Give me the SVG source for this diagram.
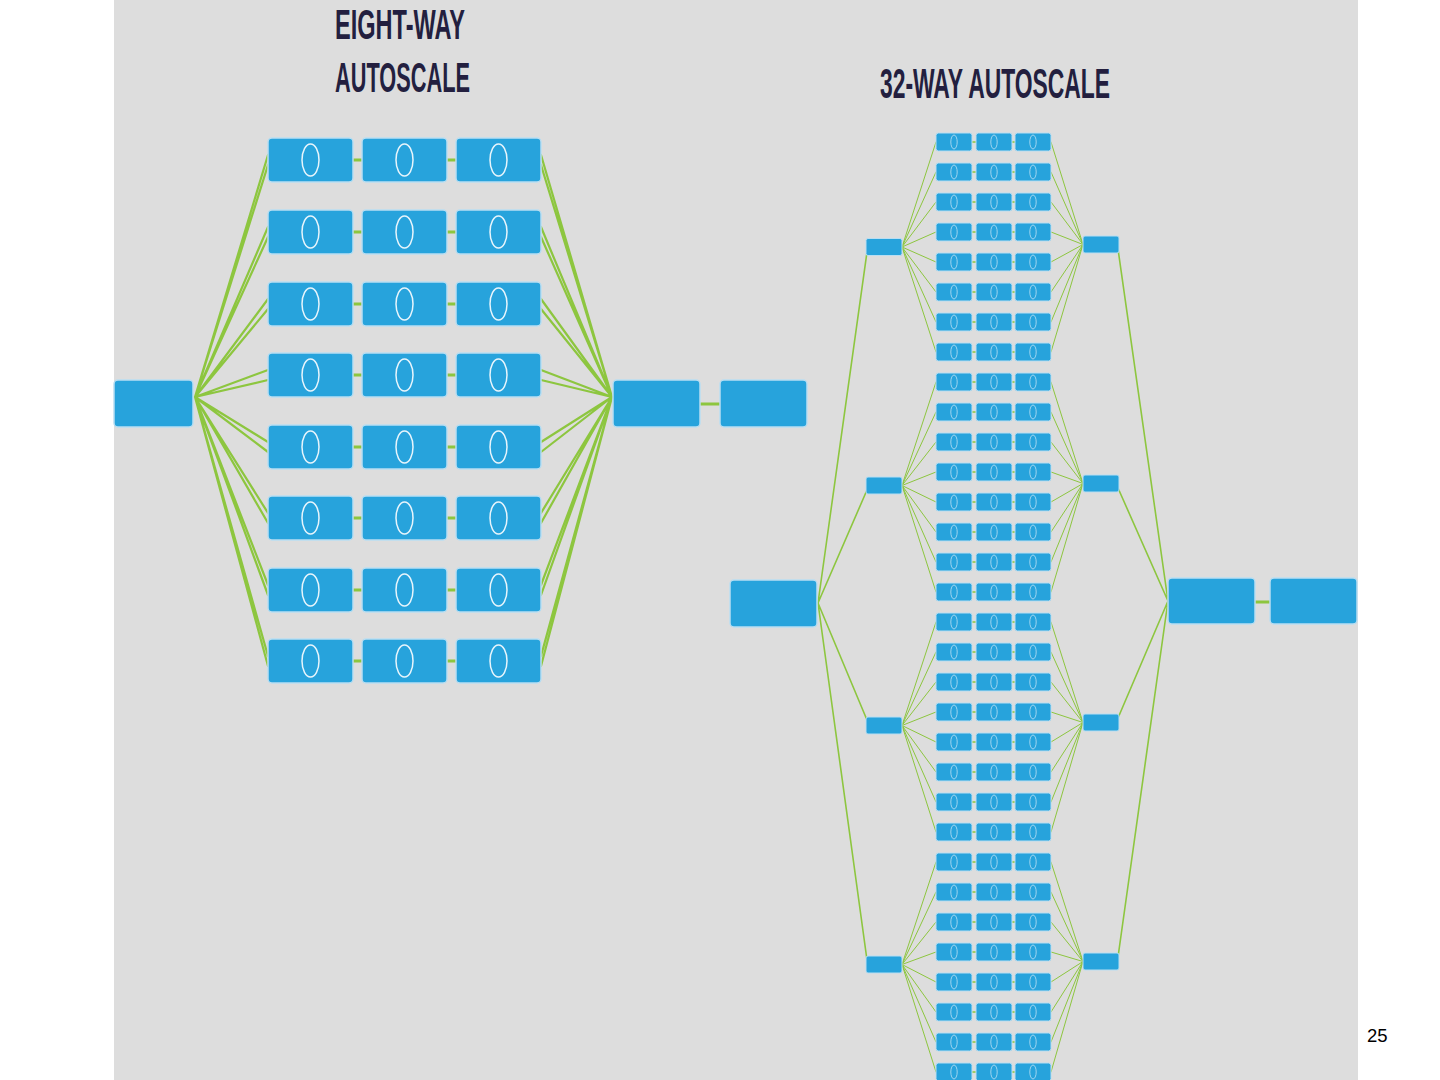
<svg xmlns="http://www.w3.org/2000/svg" xmlns:xlink="http://www.w3.org/1999/xlink" width="1440" height="1080" viewBox="0 0 1440 1080">
<style>
.title{font-family:"Liberation Sans",Arial,sans-serif;font-weight:bold;font-size:43px;fill:#231f3f}
.pg{font-family:"Liberation Sans",Arial,sans-serif;font-size:18.5px;fill:#000}
.big{fill:#27a3dc;stroke:#b9def2;stroke-width:1.5}
.sm{fill:#27a3dc;stroke:#b9def2;stroke-width:1}
.ov{fill:none;stroke:#e8f5fc;stroke-width:1.5}
.ovs{fill:none;stroke:#9fd5f0;stroke-width:1}
.gl{stroke:#8dc63f;fill:none;stroke-linecap:round}
</style>
<defs>
<g id="bn"><rect class="big" x="0" y="0" width="85" height="44" rx="4"/><ellipse class="ov" cx="42.5" cy="22" rx="8.5" ry="16"/></g>
<g id="hub"><rect class="big" x="0" y="0" width="87" height="47" rx="4"/></g>
<g id="sn"><rect class="sm" x="0" y="0" width="36" height="18" rx="2.5"/><ellipse class="ovs" cx="18" cy="9" rx="3.2" ry="7"/></g>
<g id="sg"><rect class="sm" x="0" y="0" width="36" height="17" rx="2"/></g>
</defs>
<rect x="0" y="0" width="1440" height="1080" fill="#ffffff"/>
<rect x="114" y="0" width="1244" height="1080" fill="#dddddd"/>
<text class="title" x="335" y="39" textLength="130" lengthAdjust="spacingAndGlyphs">EIGHT-WAY</text>
<text class="title" x="335" y="92" textLength="135" lengthAdjust="spacingAndGlyphs">AUTOSCALE</text>
<text class="title" x="880" y="98" textLength="230" lengthAdjust="spacingAndGlyphs">32-WAY AUTOSCALE</text>
<text class="pg" x="1367" y="1042">25</text>
<g id="connectors">
<path class="gl" stroke-width="2.2" d="M195 397 L268 155 M195 397 L268 165 M195 397 L268 227 M195 397 L268 237 M195 397 L268 299 M195 397 L268 309 M195 397 L268 370 M195 397 L268 380 M195 397 L268 442 M195 397 L268 452 M195 397 L268 513 M195 397 L268 523 M195 397 L268 585 M195 397 L268 595 M195 397 L268 656 M195 397 L268 666"/>
<path class="gl" stroke-width="2.2" d="M612 397 L541 155 M612 397 L541 165 M612 397 L541 227 M612 397 L541 237 M612 397 L541 299 M612 397 L541 309 M612 397 L541 370 M612 397 L541 380 M612 397 L541 442 M612 397 L541 452 M612 397 L541 513 M612 397 L541 523 M612 397 L541 585 M612 397 L541 595 M612 397 L541 656 M612 397 L541 666"/>
<path class="gl" stroke-width="3" d="M353 160 H362 M447 160 H456 M353 232 H362 M447 232 H456 M353 304 H362 M447 304 H456 M353 375 H362 M447 375 H456 M353 447 H362 M447 447 H456 M353 518 H362 M447 518 H456 M353 590 H362 M447 590 H456 M353 661 H362 M447 661 H456 M700 404 H720"/>
<path class="gl" stroke-width="1.6" d="M818 603 L867 252 M818 603 L867 490 M818 603 L867 720 M818 603 L867 960 M1168 601 L1118 249 M1168 601 L1118 488 M1168 601 L1118 718 M1168 601 L1118 957"/>
<path class="gl" stroke-width="3" d="M1255 602 H1270"/>
<path class="gl" stroke-width="1" d="M902 247 L936 142 M902 247 L936 172 M902 247 L936 202 M902 247 L936 232 M902 247 L936 262 M902 247 L936 292 M902 247 L936 322 M902 247 L936 352 M902 485.5 L936 382 M902 485.5 L936 412 M902 485.5 L936 442 M902 485.5 L936 472 M902 485.5 L936 502 M902 485.5 L936 532 M902 485.5 L936 562 M902 485.5 L936 592 M902 725.5 L936 622 M902 725.5 L936 652 M902 725.5 L936 682 M902 725.5 L936 712 M902 725.5 L936 742 M902 725.5 L936 772 M902 725.5 L936 802 M902 725.5 L936 832 M902 964.5 L936 862 M902 964.5 L936 892 M902 964.5 L936 922 M902 964.5 L936 952 M902 964.5 L936 982 M902 964.5 L936 1012 M902 964.5 L936 1042 M902 964.5 L936 1072"/>
<path class="gl" stroke-width="1" d="M1083 244.5 L1051 142 M1083 244.5 L1051 172 M1083 244.5 L1051 202 M1083 244.5 L1051 232 M1083 244.5 L1051 262 M1083 244.5 L1051 292 M1083 244.5 L1051 322 M1083 244.5 L1051 352 M1083 483.5 L1051 382 M1083 483.5 L1051 412 M1083 483.5 L1051 442 M1083 483.5 L1051 472 M1083 483.5 L1051 502 M1083 483.5 L1051 532 M1083 483.5 L1051 562 M1083 483.5 L1051 592 M1083 722.5 L1051 622 M1083 722.5 L1051 652 M1083 722.5 L1051 682 M1083 722.5 L1051 712 M1083 722.5 L1051 742 M1083 722.5 L1051 772 M1083 722.5 L1051 802 M1083 722.5 L1051 832 M1083 961.5 L1051 862 M1083 961.5 L1051 892 M1083 961.5 L1051 922 M1083 961.5 L1051 952 M1083 961.5 L1051 982 M1083 961.5 L1051 1012 M1083 961.5 L1051 1042 M1083 961.5 L1051 1072"/>
<path class="gl" stroke-width="1.5" d="M972 142 H976 M1012 142 H1015 M972 172 H976 M1012 172 H1015 M972 202 H976 M1012 202 H1015 M972 232 H976 M1012 232 H1015 M972 262 H976 M1012 262 H1015 M972 292 H976 M1012 292 H1015 M972 322 H976 M1012 322 H1015 M972 352 H976 M1012 352 H1015 M972 382 H976 M1012 382 H1015 M972 412 H976 M1012 412 H1015 M972 442 H976 M1012 442 H1015 M972 472 H976 M1012 472 H1015 M972 502 H976 M1012 502 H1015 M972 532 H976 M1012 532 H1015 M972 562 H976 M1012 562 H1015 M972 592 H976 M1012 592 H1015 M972 622 H976 M1012 622 H1015 M972 652 H976 M1012 652 H1015 M972 682 H976 M1012 682 H1015 M972 712 H976 M1012 712 H1015 M972 742 H976 M1012 742 H1015 M972 772 H976 M1012 772 H1015 M972 802 H976 M1012 802 H1015 M972 832 H976 M1012 832 H1015 M972 862 H976 M1012 862 H1015 M972 892 H976 M1012 892 H1015 M972 922 H976 M1012 922 H1015 M972 952 H976 M1012 952 H1015 M972 982 H976 M1012 982 H1015 M972 1012 H976 M1012 1012 H1015 M972 1042 H976 M1012 1042 H1015 M972 1072 H976 M1012 1072 H1015"/>
</g>
<g id="left-nodes">
<g id="L-in"><rect class="big" x="114" y="380" width="79" height="47" rx="4"/></g>
<g id="L-out"><use href="#hub" x="613" y="380"/></g>
<g id="L-final"><use href="#hub" x="720" y="380"/></g>
<g id="L-r1c1"><use href="#bn" x="268" y="138"/></g><g id="L-r1c2"><use href="#bn" x="362" y="138"/></g><g id="L-r1c3"><use href="#bn" x="456" y="138"/></g>
<g id="L-r2c1"><use href="#bn" x="268" y="210"/></g><g id="L-r2c2"><use href="#bn" x="362" y="210"/></g><g id="L-r2c3"><use href="#bn" x="456" y="210"/></g>
<g id="L-r3c1"><use href="#bn" x="268" y="282"/></g><g id="L-r3c2"><use href="#bn" x="362" y="282"/></g><g id="L-r3c3"><use href="#bn" x="456" y="282"/></g>
<g id="L-r4c1"><use href="#bn" x="268" y="353"/></g><g id="L-r4c2"><use href="#bn" x="362" y="353"/></g><g id="L-r4c3"><use href="#bn" x="456" y="353"/></g>
<g id="L-r5c1"><use href="#bn" x="268" y="425"/></g><g id="L-r5c2"><use href="#bn" x="362" y="425"/></g><g id="L-r5c3"><use href="#bn" x="456" y="425"/></g>
<g id="L-r6c1"><use href="#bn" x="268" y="496"/></g><g id="L-r6c2"><use href="#bn" x="362" y="496"/></g><g id="L-r6c3"><use href="#bn" x="456" y="496"/></g>
<g id="L-r7c1"><use href="#bn" x="268" y="568"/></g><g id="L-r7c2"><use href="#bn" x="362" y="568"/></g><g id="L-r7c3"><use href="#bn" x="456" y="568"/></g>
<g id="L-r8c1"><use href="#bn" x="268" y="639"/></g><g id="L-r8c2"><use href="#bn" x="362" y="639"/></g><g id="L-r8c3"><use href="#bn" x="456" y="639"/></g>
</g>
<g id="right-nodes">
<g id="R-in"><use href="#hub" x="730" y="580"/></g>
<g id="R-out"><rect class="big" x="1168" y="578" width="87" height="46" rx="4"/></g>
<g id="R-final"><rect class="big" x="1270" y="578" width="87" height="46" rx="4"/></g>
<g id="R-s1"><use href="#sg" x="866" y="238.5"/></g><g id="R-s2"><use href="#sg" x="866" y="477"/></g><g id="R-s3"><use href="#sg" x="866" y="717"/></g><g id="R-s4"><use href="#sg" x="866" y="956"/></g>
<g id="R-m1"><use href="#sg" x="1083" y="236"/></g><g id="R-m2"><use href="#sg" x="1083" y="475"/></g><g id="R-m3"><use href="#sg" x="1083" y="714"/></g><g id="R-m4"><use href="#sg" x="1083" y="953"/></g>
<g id="R-r1c1"><use href="#sn" x="936" y="133"/></g><g id="R-r1c2"><use href="#sn" x="976" y="133"/></g><g id="R-r1c3"><use href="#sn" x="1015" y="133"/></g>
<g id="R-r2c1"><use href="#sn" x="936" y="163"/></g><g id="R-r2c2"><use href="#sn" x="976" y="163"/></g><g id="R-r2c3"><use href="#sn" x="1015" y="163"/></g>
<g id="R-r3c1"><use href="#sn" x="936" y="193"/></g><g id="R-r3c2"><use href="#sn" x="976" y="193"/></g><g id="R-r3c3"><use href="#sn" x="1015" y="193"/></g>
<g id="R-r4c1"><use href="#sn" x="936" y="223"/></g><g id="R-r4c2"><use href="#sn" x="976" y="223"/></g><g id="R-r4c3"><use href="#sn" x="1015" y="223"/></g>
<g id="R-r5c1"><use href="#sn" x="936" y="253"/></g><g id="R-r5c2"><use href="#sn" x="976" y="253"/></g><g id="R-r5c3"><use href="#sn" x="1015" y="253"/></g>
<g id="R-r6c1"><use href="#sn" x="936" y="283"/></g><g id="R-r6c2"><use href="#sn" x="976" y="283"/></g><g id="R-r6c3"><use href="#sn" x="1015" y="283"/></g>
<g id="R-r7c1"><use href="#sn" x="936" y="313"/></g><g id="R-r7c2"><use href="#sn" x="976" y="313"/></g><g id="R-r7c3"><use href="#sn" x="1015" y="313"/></g>
<g id="R-r8c1"><use href="#sn" x="936" y="343"/></g><g id="R-r8c2"><use href="#sn" x="976" y="343"/></g><g id="R-r8c3"><use href="#sn" x="1015" y="343"/></g>
<g id="R-r9c1"><use href="#sn" x="936" y="373"/></g><g id="R-r9c2"><use href="#sn" x="976" y="373"/></g><g id="R-r9c3"><use href="#sn" x="1015" y="373"/></g>
<g id="R-r10c1"><use href="#sn" x="936" y="403"/></g><g id="R-r10c2"><use href="#sn" x="976" y="403"/></g><g id="R-r10c3"><use href="#sn" x="1015" y="403"/></g>
<g id="R-r11c1"><use href="#sn" x="936" y="433"/></g><g id="R-r11c2"><use href="#sn" x="976" y="433"/></g><g id="R-r11c3"><use href="#sn" x="1015" y="433"/></g>
<g id="R-r12c1"><use href="#sn" x="936" y="463"/></g><g id="R-r12c2"><use href="#sn" x="976" y="463"/></g><g id="R-r12c3"><use href="#sn" x="1015" y="463"/></g>
<g id="R-r13c1"><use href="#sn" x="936" y="493"/></g><g id="R-r13c2"><use href="#sn" x="976" y="493"/></g><g id="R-r13c3"><use href="#sn" x="1015" y="493"/></g>
<g id="R-r14c1"><use href="#sn" x="936" y="523"/></g><g id="R-r14c2"><use href="#sn" x="976" y="523"/></g><g id="R-r14c3"><use href="#sn" x="1015" y="523"/></g>
<g id="R-r15c1"><use href="#sn" x="936" y="553"/></g><g id="R-r15c2"><use href="#sn" x="976" y="553"/></g><g id="R-r15c3"><use href="#sn" x="1015" y="553"/></g>
<g id="R-r16c1"><use href="#sn" x="936" y="583"/></g><g id="R-r16c2"><use href="#sn" x="976" y="583"/></g><g id="R-r16c3"><use href="#sn" x="1015" y="583"/></g>
<g id="R-r17c1"><use href="#sn" x="936" y="613"/></g><g id="R-r17c2"><use href="#sn" x="976" y="613"/></g><g id="R-r17c3"><use href="#sn" x="1015" y="613"/></g>
<g id="R-r18c1"><use href="#sn" x="936" y="643"/></g><g id="R-r18c2"><use href="#sn" x="976" y="643"/></g><g id="R-r18c3"><use href="#sn" x="1015" y="643"/></g>
<g id="R-r19c1"><use href="#sn" x="936" y="673"/></g><g id="R-r19c2"><use href="#sn" x="976" y="673"/></g><g id="R-r19c3"><use href="#sn" x="1015" y="673"/></g>
<g id="R-r20c1"><use href="#sn" x="936" y="703"/></g><g id="R-r20c2"><use href="#sn" x="976" y="703"/></g><g id="R-r20c3"><use href="#sn" x="1015" y="703"/></g>
<g id="R-r21c1"><use href="#sn" x="936" y="733"/></g><g id="R-r21c2"><use href="#sn" x="976" y="733"/></g><g id="R-r21c3"><use href="#sn" x="1015" y="733"/></g>
<g id="R-r22c1"><use href="#sn" x="936" y="763"/></g><g id="R-r22c2"><use href="#sn" x="976" y="763"/></g><g id="R-r22c3"><use href="#sn" x="1015" y="763"/></g>
<g id="R-r23c1"><use href="#sn" x="936" y="793"/></g><g id="R-r23c2"><use href="#sn" x="976" y="793"/></g><g id="R-r23c3"><use href="#sn" x="1015" y="793"/></g>
<g id="R-r24c1"><use href="#sn" x="936" y="823"/></g><g id="R-r24c2"><use href="#sn" x="976" y="823"/></g><g id="R-r24c3"><use href="#sn" x="1015" y="823"/></g>
<g id="R-r25c1"><use href="#sn" x="936" y="853"/></g><g id="R-r25c2"><use href="#sn" x="976" y="853"/></g><g id="R-r25c3"><use href="#sn" x="1015" y="853"/></g>
<g id="R-r26c1"><use href="#sn" x="936" y="883"/></g><g id="R-r26c2"><use href="#sn" x="976" y="883"/></g><g id="R-r26c3"><use href="#sn" x="1015" y="883"/></g>
<g id="R-r27c1"><use href="#sn" x="936" y="913"/></g><g id="R-r27c2"><use href="#sn" x="976" y="913"/></g><g id="R-r27c3"><use href="#sn" x="1015" y="913"/></g>
<g id="R-r28c1"><use href="#sn" x="936" y="943"/></g><g id="R-r28c2"><use href="#sn" x="976" y="943"/></g><g id="R-r28c3"><use href="#sn" x="1015" y="943"/></g>
<g id="R-r29c1"><use href="#sn" x="936" y="973"/></g><g id="R-r29c2"><use href="#sn" x="976" y="973"/></g><g id="R-r29c3"><use href="#sn" x="1015" y="973"/></g>
<g id="R-r30c1"><use href="#sn" x="936" y="1003"/></g><g id="R-r30c2"><use href="#sn" x="976" y="1003"/></g><g id="R-r30c3"><use href="#sn" x="1015" y="1003"/></g>
<g id="R-r31c1"><use href="#sn" x="936" y="1033"/></g><g id="R-r31c2"><use href="#sn" x="976" y="1033"/></g><g id="R-r31c3"><use href="#sn" x="1015" y="1033"/></g>
<g id="R-r32c1"><use href="#sn" x="936" y="1063"/></g><g id="R-r32c2"><use href="#sn" x="976" y="1063"/></g><g id="R-r32c3"><use href="#sn" x="1015" y="1063"/></g>
</g>
</svg>
